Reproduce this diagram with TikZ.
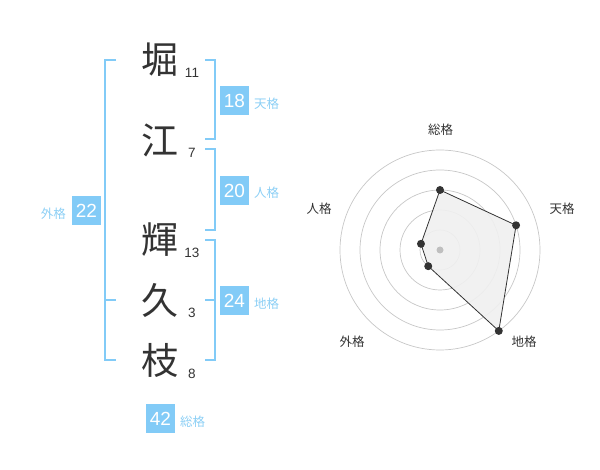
\documentclass[tikz,border=0pt]{standalone}
\usepackage{fontspec}
\setmainfont{Liberation Sans}
\newfontfamily\cjk{Noto Sans CJK JP}
\definecolor{kblue}{HTML}{82CBF7}
\definecolor{lblue}{HTML}{8CCFF5}
\definecolor{dark}{HTML}{333333}
\begin{document}
\begin{tikzpicture}[x=1pt,y=-1pt,
  kanji/.style={font=\cjk\fontsize{37}{37}\selectfont, text=dark, inner sep=0pt},
  stroke/.style={font=\fontsize{13.5}{13.5}\selectfont, text=dark, inner sep=0pt},
  numbox/.style={fill=kblue, text=white, minimum width=29pt, minimum height=29pt, inner sep=0pt, font=\fontsize{19}{19}\selectfont},
  kaku/.style={font=\cjk\fontsize{12.5}{12.5}\selectfont, text=lblue, inner sep=0pt},
  brk/.style={draw=kblue, line width=2pt},
  ring/.style={draw=black!22, line width=0.7pt},
  rlab/.style={font=\cjk\fontsize{12.5}{12.5}\selectfont, text=dark, inner sep=0pt},
  vdot/.style={circle, fill=dark, inner sep=0pt, minimum size=8pt}]
\useasboundingbox (0,0) rectangle (600,470);
% kanji and stroke counts
\node[kanji] (k1) at (160,60) {堀};
\node[kanji] (k2) at (160,140) {江};
\node[kanji] (k3) at (160,240) {輝};
\node[kanji] (k4) at (160,300) {久};
\node[kanji] (k5) at (160,360) {枝};
\node[stroke] (s1) at (192,73) {11};
\node[stroke] (s2) at (192,153) {7};
\node[stroke] (s3) at (192,253) {13};
\node[stroke] (s4) at (192,313) {3};
\node[stroke] (s5) at (192,373.5) {8};
% brackets
\coordinate (lt) at (104.5,60);
\coordinate (lm) at (104.5,300);
\coordinate (lb) at (104.5,360);
\draw[brk] (116,60) -- (lt) -- (lb) -- (116,360);
\draw[brk] (lm) -- (116,300);
\draw[brk] (205,60) -- (214.5,60) -- (214.5,139) -- (205,139);
\draw[brk] (205,149) -- (214.5,149) -- (214.5,230) -- (205,230);
\draw[brk] (205,240) -- (214.5,240) -- (214.5,360) -- (205,360);
\draw[brk] (205,300) -- (214.5,300);
% number boxes
\node[numbox] (ten) at (234.5,100.5) {18};
\node[kaku, anchor=west] (tenl) at (254,104) {天格};
\node[numbox] (jin) at (234.5,190.5) {20};
\node[kaku, anchor=west] (jinl) at (254,193) {人格};
\node[numbox] (gai) at (86.5,210.5) {22};
\node[kaku, anchor=east] (gail) at (66,214) {外格};
\node[numbox] (chi) at (234.5,300.5) {24};
\node[kaku, anchor=west] (chil) at (254,304) {地格};
\node[numbox] (sou) at (160.5,418.5) {42};
\node[kaku, anchor=west] (soul) at (180,422) {総格};
% radar
\begin{scope}[shift={(440,250)}, y=1pt]
  \foreach \r in {20,40,60,80,100} \draw[ring] (0,0) circle (\r);
  \coordinate (p1) at (90:60);
  \coordinate (p2) at (18:80);
  \coordinate (p3) at (-54:100);
  \coordinate (p4) at (-126:20);
  \coordinate (p5) at (162:20);
  \filldraw[fill=black!6, fill opacity=0.9, draw=dark, line width=0.8pt] (p1) -- (p2) -- (p3) -- (p4) -- (p5) -- cycle;
  \fill[black!25] (0,0) circle (3.5);
  \foreach \p in {p1,p2,p3,p4,p5} \node[vdot] at (\p) {};
\end{scope}
\node[rlab] (r1) at (440.5,130) {総格};
\node[rlab] (r2) at (562,209) {天格};
\node[rlab] (r3) at (524,342) {地格};
\node[rlab] (r4) at (352,342) {外格};
\node[rlab] (r5) at (319,209) {人格};
\end{tikzpicture}
\end{document}
